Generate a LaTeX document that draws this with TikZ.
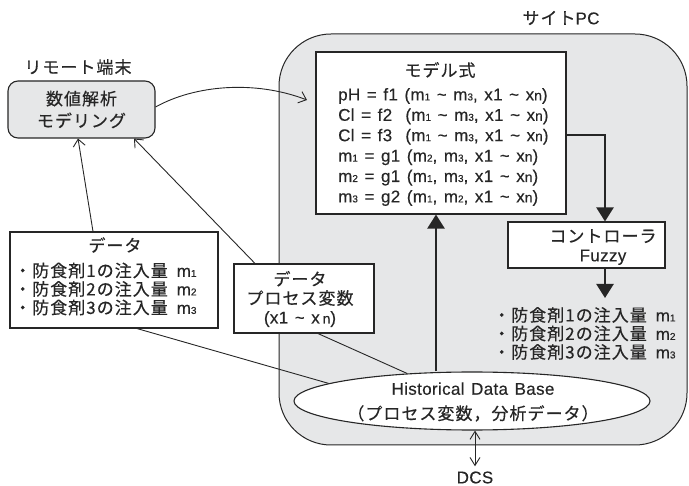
\documentclass[tikz,border=0pt]{standalone}
\usepackage{fontspec}
\setmainfont{Liberation Sans}[LetterSpace=2,WordSpace=1.3,FakeBold=0.3]
\newfontfamily\jpf{Noto Sans CJK JP}[Scale=1.0,LetterSpace=6,FakeBold=0.4]
\usetikzlibrary{arrows.meta,shapes.geometric}
\definecolor{ink}{HTML}{262626}
\definecolor{panel}{HTML}{E6E7E8}
\newcommand\J[1]{{\jpf #1}}
\newcommand\msub[1]{{\fontsize{10}{10}\selectfont #1}}
\newcommand\xn{x{\fontsize{14}{14}\selectfont n}}
\newcommand\tl{\textasciitilde}
\begin{document}
\begin{tikzpicture}[x=1pt,y=-1pt,
  every node/.style={text=ink, inner sep=0pt, font=\fontsize{17}{18.5}\selectfont},
  box/.style={draw=ink, line width=1.1pt, fill=white},
  thinline/.style={draw=ink, line width=0.9pt},
  thinarrow/.style={thinline, -{Straight Barb[length=7pt,width=12pt]}},
  fatarrow/.style={draw=ink, line width=2.4pt, -{Triangle[length=14pt,width=17pt]}}]
\useasboundingbox (0,0) rectangle (689,486);

% site PC panel
\node[draw=ink, line width=1pt, fill=panel, rounded corners=52pt,
      minimum width=408pt, minimum height=411pt] (sitepc) at (483,239.5) {};
\node (sitetitle) at (561,18) {\J{サイト}PC};

% remote terminal
\node (remotetitle) at (78,67) {\J{リモート端末}};
\node[box, fill=panel, rounded corners=10pt, minimum width=147pt, minimum height=57pt,
      align=center, font=\fontsize{17}{22}\selectfont] (remote) at (81.5,109.5)
      {\J{数値解析}\\\J{モデリング}};

% model box
\node[box, minimum width=250pt, minimum height=162pt] (model) at (441,133) {};
\node (modeltitle) at (440,70) {\J{モデル式}};
\node[anchor=west, align=left, font=\fontsize{17}{20.4}\selectfont] (modeleqs) at (338,147)
  {pH = f1 (m\msub1 \tl{} m\msub3, x1 \tl{} \xn)\\
   Cl = f2 \ (m\msub1 \tl{} m\msub3, x1 \tl{} \xn)\\
   Cl = f3 \ (m\msub1 \tl{} m\msub3, x1 \tl{} \xn)\\
   m\msub1 = g1 (m\msub2, m\msub3, x1 \tl{} \xn)\\
   m\msub2 = g1 (m\msub1, m\msub3, x1 \tl{} \xn)\\
   m\msub3 = g2 (m\msub1, m\msub2, x1 \tl{} \xn)};

% data box (left)
\node[box, minimum width=208pt, minimum height=96pt] (data) at (114,280) {};
\node (datatitle) at (115,245) {\J{データ}};
\node[anchor=west, align=left] (datalist) at (14,289)
  {\J{・防食剤1の注入量}\hspace{9pt}m\msub1\\
   \J{・防食剤2の注入量}\hspace{9pt}m\msub2\\
   \J{・防食剤3の注入量}\hspace{9pt}m\msub3};

% data: process variables
\node[box, minimum width=140pt, minimum height=69pt] (dataproc) at (304,298.5) {};
\node[align=center, font=\fontsize{17}{19}\selectfont] (dataproctext) at (300,299)
  {\J{データ}\\\J{プロセス変数}\\(x1 \tl{} x\,{\fontsize{14}{14}\selectfont n})};

% controller
\node[box, minimum width=157pt, minimum height=46pt] (ctrl) at (586.5,245) {};
\node[align=center, font=\fontsize{17}{19}\selectfont] (ctrltext) at (603,247)
  {\J{コントローラ}\\Fuzzy};

% controller output
\node[anchor=west, align=left] (outlist) at (493,333.5)
  {\J{・防食剤1の注入量}\hspace{9pt}m\msub1\\
   \J{・防食剤2の注入量}\hspace{9pt}m\msub2\\
   \J{・防食剤3の注入量}\hspace{9pt}m\msub3};

% historical data base
\node[ellipse, draw=ink, line width=1.1pt, fill=white,
      minimum width=356pt, minimum height=58pt] (dbase) at (472,401) {};
\node[align=center, font=\fontsize{17}{25}\selectfont] (dbasetext) at (473,402)
  {Historical Data Base\\\J{（プロセス変数，分析データ）}};

\node (dcs) at (475,477.5) {DCS};

% connectors
\coordinate (curveend) at (307,100);
\coordinate (outtop) at (605,298);
\draw[thinarrow] ([yshift=2.5pt]remote.east) .. controls (195,85) and (255,80) .. (curveend);
\draw[thinarrow] ([xshift=-21pt]data.north) -- ([xshift=-3.5pt]remote.south);
\draw[thinarrow] ([xshift=-49pt]dataproc.north) -- ([xshift=52.5pt]remote.south);
\draw[thinline] ([xshift=23pt]data.south) -- (dbase.173);
\draw[thinline] ([xshift=14pt]dataproc.south) -- (dbase.157);
\draw[fatarrow] ([yshift=-2pt]model.east) -| ([xshift=18.5pt]ctrl.north);
\draw[fatarrow] ([xshift=18.5pt]ctrl.south) -- (outtop);
\draw[fatarrow] ([xshift=-36pt]dbase.north) -- ([xshift=-5pt]model.south);
\draw[thinline, {Straight Barb[length=8pt,width=10pt]}-{Straight Barb[length=8pt,width=10pt]}]
  ([xshift=3pt]dbase.south) -- ([yshift=5pt]dcs.north);
\end{tikzpicture}
\end{document}
